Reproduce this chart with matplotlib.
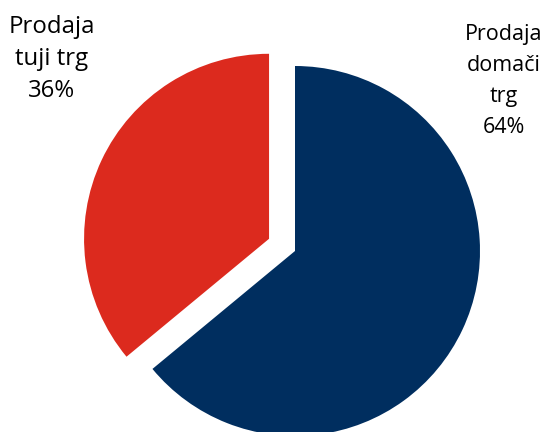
import matplotlib
matplotlib.use("Agg")
import matplotlib.pyplot as plt

labels = ["Prodaja domači trg", "Prodaja tuji trg"]
values = [64, 36]
colors = ["#002E5F", "#DC2A1E"]
label_left = ["Prodaja", "tuji trg", "36%"]
label_right = ["Prodaja", "domači", "trg", "64%"]

W, H = 548, 432
fig = plt.figure(figsize=(W / 100, H / 100), dpi=100)
ax = fig.add_axes([0, 0, 1, 1])

cx, cy, R = 295, 251, 185  # pixel centre and radius for mapping


def px(x, y):
    return (x - cx) / R, (cy - y) / R


ax.pie(values, colors=colors, startangle=90, counterclock=False,
       explode=[0, 0.155], radius=1.0,
       wedgeprops=dict(linewidth=0))

ax.set_xlim(-cx / R, (W - cx) / R)
ax.set_ylim(-(H - cy) / R, cy / R)
ax.set_aspect("auto")
ax.axis("off")

for i, s in enumerate(label_left):
    x, y = px(52, 33 + 32 * i)
    ax.text(x, y, s, ha="center", va="baseline", fontsize=17.3,
            family=["Open Sans", "DejaVu Sans"], color="#000000")

for i, s in enumerate(label_right):
    x, y = px(504, 40 + 31 * i)
    ax.text(x, y, s, ha="center", va="baseline", fontsize=15.5,
            family=["Open Sans", "DejaVu Sans"], color="#000000")

fig.savefig("out.png", dpi=100, facecolor="white")
